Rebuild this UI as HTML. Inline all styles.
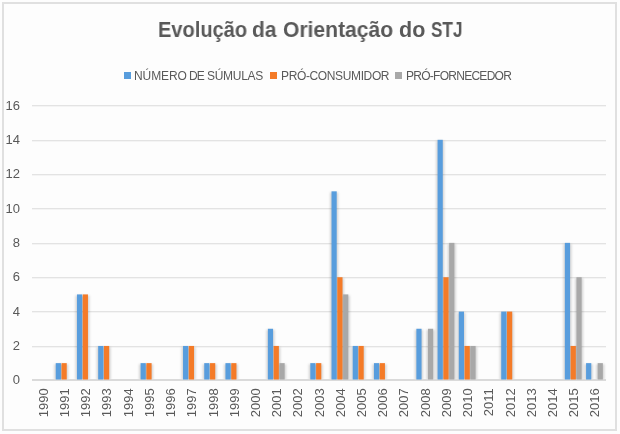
<!DOCTYPE html>
<html><head><meta charset="utf-8">
<style>
html,body{margin:0;padding:0;background:#fdfdfd;}
body{width:620px;height:434px;position:relative;overflow:hidden;font-family:"Liberation Sans",sans-serif;-webkit-font-smoothing:antialiased;}
.frame{position:absolute;left:2px;top:2px;width:611px;height:425px;border:2px solid #e0e0e0;}
svg{position:absolute;left:0;top:0;will-change:transform;}
.ax{font-family:"Liberation Sans",sans-serif;font-size:13px;fill:#595959;}
.title{will-change:transform;position:absolute;top:18px;font-weight:bold;font-size:21.5px;transform-origin:0 0;color:#595959;white-space:nowrap;}
.lg{will-change:transform;position:absolute;top:69px;font-size:12px;color:#595959;white-space:nowrap;}
.sq{position:absolute;top:72px;width:7px;height:7px;}
</style></head><body>
<div class="frame"></div>
<div class="title" style="left:158px;transform:scaleX(0.932)">Evolução</div>
<div class="title" style="left:252px;transform:scaleX(0.97)">da</div>
<div class="title" style="left:282.5px;transform:scaleX(0.98)">Orientação</div>
<div class="title" style="left:399px;transform:scaleX(0.99)">do</div>
<div class="title" style="left:430.5px;transform:scaleX(0.80)">STJ</div>
<div class="sq" style="left:124px;background:#589ddd"></div>
<div class="lg" style="left:134px;letter-spacing:-0.1px">NÚMERO</div>
<div class="lg" style="left:189px;letter-spacing:-1px">DE</div>
<div class="lg" style="left:207px;letter-spacing:-0.28px">SÚMULAS</div>
<div class="sq" style="left:270px;background:#f47b28"></div>
<div class="lg" style="left:281px;letter-spacing:-0.37px">PRÓ-CONSUMIDOR</div>
<div class="sq" style="left:395px;background:#a8a8a8"></div>
<div class="lg" style="left:405.5px;letter-spacing:-0.73px">PRÓ-FORNECEDOR</div>
<svg width="620" height="434">
<rect x="32" y="346" width="574" height="1" fill="#e3e3e3"/><rect x="32" y="347" width="574" height="1" fill="#f4f4f4"/>
<rect x="32" y="311" width="574" height="1" fill="#e3e3e3"/><rect x="32" y="312" width="574" height="1" fill="#f4f4f4"/>
<rect x="32" y="277" width="574" height="1" fill="#e3e3e3"/><rect x="32" y="278" width="574" height="1" fill="#f4f4f4"/>
<rect x="32" y="243" width="574" height="1" fill="#e3e3e3"/><rect x="32" y="244" width="574" height="1" fill="#f4f4f4"/>
<rect x="32" y="208" width="574" height="1" fill="#e3e3e3"/><rect x="32" y="209" width="574" height="1" fill="#f4f4f4"/>
<rect x="32" y="174" width="574" height="1" fill="#e3e3e3"/><rect x="32" y="175" width="574" height="1" fill="#f4f4f4"/>
<rect x="32" y="140" width="574" height="1" fill="#e3e3e3"/><rect x="32" y="141" width="574" height="1" fill="#f4f4f4"/>
<rect x="32" y="105" width="574" height="1" fill="#e3e3e3"/><rect x="32" y="106" width="574" height="1" fill="#f4f4f4"/>
<text x="20" y="384.41" text-anchor="end" class="ax">0</text>
<text x="20" y="350.05" text-anchor="end" class="ax">2</text>
<text x="20" y="315.69" text-anchor="end" class="ax">4</text>
<text x="20" y="281.34" text-anchor="end" class="ax">6</text>
<text x="20" y="246.98" text-anchor="end" class="ax">8</text>
<text x="20" y="212.62" text-anchor="end" class="ax">10</text>
<text x="20" y="178.26" text-anchor="end" class="ax">12</text>
<text x="20" y="143.90" text-anchor="end" class="ax">14</text>
<text x="20" y="109.55" text-anchor="end" class="ax">16</text>
<text transform="translate(47.83,388.3) rotate(-90)" text-anchor="end" class="ax">1990</text>
<text transform="translate(69.04,388.3) rotate(-90)" text-anchor="end" class="ax">1991</text>
<text transform="translate(90.26,388.3) rotate(-90)" text-anchor="end" class="ax">1992</text>
<text transform="translate(111.47,388.3) rotate(-90)" text-anchor="end" class="ax">1993</text>
<text transform="translate(132.68,388.3) rotate(-90)" text-anchor="end" class="ax">1994</text>
<text transform="translate(153.90,388.3) rotate(-90)" text-anchor="end" class="ax">1995</text>
<text transform="translate(175.11,388.3) rotate(-90)" text-anchor="end" class="ax">1996</text>
<text transform="translate(196.32,388.3) rotate(-90)" text-anchor="end" class="ax">1997</text>
<text transform="translate(217.53,388.3) rotate(-90)" text-anchor="end" class="ax">1998</text>
<text transform="translate(238.75,388.3) rotate(-90)" text-anchor="end" class="ax">1999</text>
<text transform="translate(259.96,388.3) rotate(-90)" text-anchor="end" class="ax">2000</text>
<text transform="translate(281.17,388.3) rotate(-90)" text-anchor="end" class="ax">2001</text>
<text transform="translate(302.39,388.3) rotate(-90)" text-anchor="end" class="ax">2002</text>
<text transform="translate(323.60,388.3) rotate(-90)" text-anchor="end" class="ax">2003</text>
<text transform="translate(344.81,388.3) rotate(-90)" text-anchor="end" class="ax">2004</text>
<text transform="translate(366.02,388.3) rotate(-90)" text-anchor="end" class="ax">2005</text>
<text transform="translate(387.24,388.3) rotate(-90)" text-anchor="end" class="ax">2006</text>
<text transform="translate(408.45,388.3) rotate(-90)" text-anchor="end" class="ax">2007</text>
<text transform="translate(429.66,388.3) rotate(-90)" text-anchor="end" class="ax">2008</text>
<text transform="translate(450.88,388.3) rotate(-90)" text-anchor="end" class="ax">2009</text>
<text transform="translate(472.09,388.3) rotate(-90)" text-anchor="end" class="ax">2010</text>
<text transform="translate(493.30,388.3) rotate(-90)" text-anchor="end" class="ax">2011</text>
<text transform="translate(514.52,388.3) rotate(-90)" text-anchor="end" class="ax">2012</text>
<text transform="translate(535.73,388.3) rotate(-90)" text-anchor="end" class="ax">2013</text>
<text transform="translate(556.94,388.3) rotate(-90)" text-anchor="end" class="ax">2014</text>
<text transform="translate(578.15,388.3) rotate(-90)" text-anchor="end" class="ax">2015</text>
<text transform="translate(599.37,388.3) rotate(-90)" text-anchor="end" class="ax">2016</text>
<defs><filter id="bl" x="-50%" y="-10%" width="200%" height="120%"><feGaussianBlur stdDeviation="1.3"/></filter><clipPath id="cp"><rect x="0" y="0" width="620" height="380"/></clipPath></defs>
<g clip-path="url(#cp)"><g filter="url(#bl)" fill="#000" fill-opacity="0.16"><rect x="54.24" y="364.13" width="8.2" height="15.87"/><rect x="60.04" y="364.13" width="8.2" height="15.87"/><rect x="75.46" y="295.42" width="8.2" height="84.58"/><rect x="81.26" y="295.42" width="8.2" height="84.58"/><rect x="96.67" y="346.95" width="8.2" height="33.05"/><rect x="102.47" y="346.95" width="8.2" height="33.05"/><rect x="139.09" y="364.13" width="8.2" height="15.87"/><rect x="144.90" y="364.13" width="8.2" height="15.87"/><rect x="181.52" y="346.95" width="8.2" height="33.05"/><rect x="187.32" y="346.95" width="8.2" height="33.05"/><rect x="202.73" y="364.13" width="8.2" height="15.87"/><rect x="208.53" y="364.13" width="8.2" height="15.87"/><rect x="223.95" y="364.13" width="8.2" height="15.87"/><rect x="229.75" y="364.13" width="8.2" height="15.87"/><rect x="266.37" y="329.77" width="8.2" height="50.23"/><rect x="272.17" y="346.95" width="8.2" height="33.05"/><rect x="277.97" y="364.13" width="8.2" height="15.87"/><rect x="308.80" y="364.13" width="8.2" height="15.87"/><rect x="314.60" y="364.13" width="8.2" height="15.87"/><rect x="330.01" y="192.34" width="8.2" height="187.66"/><rect x="335.81" y="278.24" width="8.2" height="101.76"/><rect x="341.61" y="295.42" width="8.2" height="84.58"/><rect x="351.22" y="346.95" width="8.2" height="33.05"/><rect x="357.02" y="346.95" width="8.2" height="33.05"/><rect x="372.44" y="364.13" width="8.2" height="15.87"/><rect x="378.24" y="364.13" width="8.2" height="15.87"/><rect x="414.86" y="329.77" width="8.2" height="50.23"/><rect x="426.46" y="329.77" width="8.2" height="50.23"/><rect x="436.08" y="140.80" width="8.2" height="239.20"/><rect x="441.88" y="278.24" width="8.2" height="101.76"/><rect x="447.68" y="243.88" width="8.2" height="136.12"/><rect x="457.29" y="312.59" width="8.2" height="67.41"/><rect x="463.09" y="346.95" width="8.2" height="33.05"/><rect x="468.89" y="346.95" width="8.2" height="33.05"/><rect x="499.72" y="312.59" width="8.2" height="67.41"/><rect x="505.52" y="312.59" width="8.2" height="67.41"/><rect x="563.36" y="243.88" width="8.2" height="136.12"/><rect x="569.15" y="346.95" width="8.2" height="33.05"/><rect x="574.96" y="278.24" width="8.2" height="101.76"/><rect x="584.57" y="364.13" width="8.2" height="15.87"/><rect x="596.17" y="364.13" width="8.2" height="15.87"/></g></g>
<rect x="32" y="379" width="574" height="2" fill="#dadada"/>
<rect x="55.74" y="363.13" width="5.2" height="16.37" fill="#589ddd"/>
<rect x="61.54" y="363.13" width="5.2" height="16.37" fill="#f47b28"/>
<rect x="76.96" y="294.42" width="5.2" height="85.08" fill="#589ddd"/>
<rect x="82.76" y="294.42" width="5.2" height="85.08" fill="#f47b28"/>
<rect x="98.17" y="345.95" width="5.2" height="33.55" fill="#589ddd"/>
<rect x="103.97" y="345.95" width="5.2" height="33.55" fill="#f47b28"/>
<rect x="140.59" y="363.13" width="5.2" height="16.37" fill="#589ddd"/>
<rect x="146.40" y="363.13" width="5.2" height="16.37" fill="#f47b28"/>
<rect x="183.02" y="345.95" width="5.2" height="33.55" fill="#589ddd"/>
<rect x="188.82" y="345.95" width="5.2" height="33.55" fill="#f47b28"/>
<rect x="204.23" y="363.13" width="5.2" height="16.37" fill="#589ddd"/>
<rect x="210.03" y="363.13" width="5.2" height="16.37" fill="#f47b28"/>
<rect x="225.45" y="363.13" width="5.2" height="16.37" fill="#589ddd"/>
<rect x="231.25" y="363.13" width="5.2" height="16.37" fill="#f47b28"/>
<rect x="267.87" y="328.77" width="5.2" height="50.73" fill="#589ddd"/>
<rect x="273.67" y="345.95" width="5.2" height="33.55" fill="#f47b28"/>
<rect x="279.47" y="363.13" width="5.2" height="16.37" fill="#a8a8a8"/>
<rect x="310.30" y="363.13" width="5.2" height="16.37" fill="#589ddd"/>
<rect x="316.10" y="363.13" width="5.2" height="16.37" fill="#f47b28"/>
<rect x="331.51" y="191.34" width="5.2" height="188.16" fill="#589ddd"/>
<rect x="337.31" y="277.24" width="5.2" height="102.26" fill="#f47b28"/>
<rect x="343.11" y="294.42" width="5.2" height="85.08" fill="#a8a8a8"/>
<rect x="352.72" y="345.95" width="5.2" height="33.55" fill="#589ddd"/>
<rect x="358.52" y="345.95" width="5.2" height="33.55" fill="#f47b28"/>
<rect x="373.94" y="363.13" width="5.2" height="16.37" fill="#589ddd"/>
<rect x="379.74" y="363.13" width="5.2" height="16.37" fill="#f47b28"/>
<rect x="416.36" y="328.77" width="5.2" height="50.73" fill="#589ddd"/>
<rect x="427.96" y="328.77" width="5.2" height="50.73" fill="#a8a8a8"/>
<rect x="437.58" y="139.80" width="5.2" height="239.70" fill="#589ddd"/>
<rect x="443.38" y="277.24" width="5.2" height="102.26" fill="#f47b28"/>
<rect x="449.18" y="242.88" width="5.2" height="136.62" fill="#a8a8a8"/>
<rect x="458.79" y="311.59" width="5.2" height="67.91" fill="#589ddd"/>
<rect x="464.59" y="345.95" width="5.2" height="33.55" fill="#f47b28"/>
<rect x="470.39" y="345.95" width="5.2" height="33.55" fill="#a8a8a8"/>
<rect x="501.22" y="311.59" width="5.2" height="67.91" fill="#589ddd"/>
<rect x="507.02" y="311.59" width="5.2" height="67.91" fill="#f47b28"/>
<rect x="564.86" y="242.88" width="5.2" height="136.62" fill="#589ddd"/>
<rect x="570.65" y="345.95" width="5.2" height="33.55" fill="#f47b28"/>
<rect x="576.46" y="277.24" width="5.2" height="102.26" fill="#a8a8a8"/>
<rect x="586.07" y="363.13" width="5.2" height="16.37" fill="#589ddd"/>
<rect x="597.67" y="363.13" width="5.2" height="16.37" fill="#a8a8a8"/>
</svg>
</body></html>
